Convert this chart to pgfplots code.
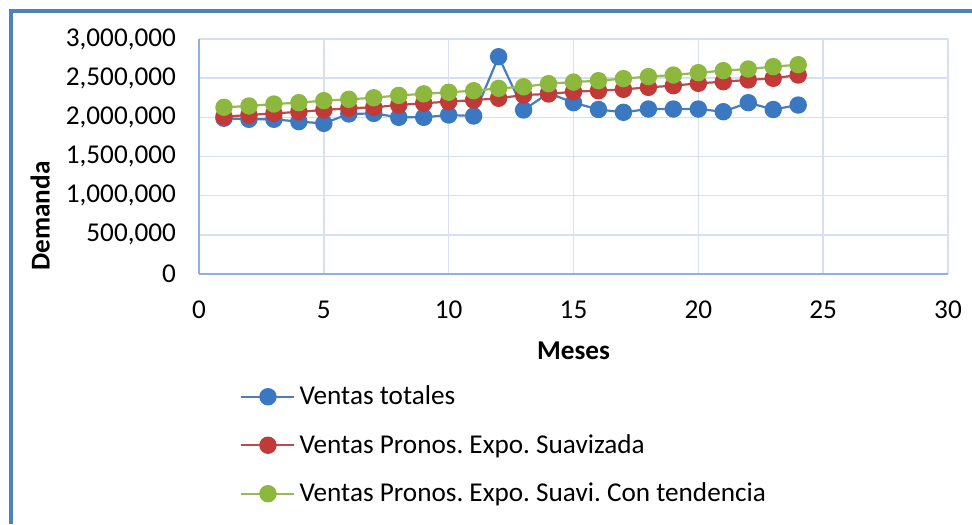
\documentclass[border=0pt]{standalone}
\usepackage{fontspec}
\setmainfont{Carlito}
\usepackage{pgfplots}
\usepackage{pgfplotstable}
\pgfplotsset{compat=1.18}
\frenchspacing
\definecolor{gridc}{HTML}{D5E1F2}
\definecolor{axc}{HTML}{8FB1DE}
\definecolor{framec}{HTML}{4F81BD}
\definecolor{lblue}{HTML}{4A7EBB}
\definecolor{lred}{HTML}{BE4B48}
\definecolor{lgreen}{HTML}{98B954}
\definecolor{mblue}{HTML}{3B78C2}
\definecolor{mred}{HTML}{C23A38}
\definecolor{mgreen}{HTML}{8DB83E}
\pgfplotstableread{
x y
1 1988000
2 1975000
3 1975000
4 1945000
5 1923000
6 2043000
7 2050000
8 2000000
9 2000000
10 2030000
11 2017000
12 2774000
13 2094000
14 2310000
15 2187000
16 2100000
17 2064000
18 2106000
19 2106000
20 2106000
21 2072000
22 2187000
23 2100000
24 2157000
}\totales
\pgfplotstableread{
x y
1 2008000
2 2030000
3 2050000
4 2070000
5 2094000
6 2115000
7 2128000
8 2157000
9 2180000
10 2200000
11 2220000
12 2243000
13 2285000
14 2298000
15 2327000
16 2340000
17 2357000
18 2383000
19 2404000
20 2434000
21 2455000
22 2477000
23 2498000
24 2540000
}\suavizada
\pgfplotstableread{
x y
1 2128000
2 2145000
3 2170000
4 2187000
5 2213000
6 2230000
7 2250000
8 2280000
9 2300000
10 2320000
11 2340000
12 2370000
13 2390000
14 2430000
15 2450000
16 2468000
17 2494000
18 2520000
19 2540000
20 2570000
21 2596000
22 2617000
23 2647000
24 2672000
}\tendencia
\begin{document}
\begin{tikzpicture}[font=\fontsize{13.6}{16.3}\selectfont]
\useasboundingbox (0,0) rectangle (486pt,262pt);
\draw[framec, line width=2pt] (5.5pt,0pt) -- (5.5pt,256.5pt) -- (486pt,256.5pt);
\begin{axis}[
  at={(99.5pt,125pt)}, anchor=south west,
  scale only axis, width=374.5pt, height=117.5pt,
  xmin=0, xmax=30, ymin=0, ymax=3000000,
  xtick={0,5,...,30}, ytick={0,500000,...,3000000},
  grid=major, grid style={gridc, line width=0.7pt},
  axis lines=left, axis line style={axc, line width=0.9pt, -},
  major tick length=0pt,
  scaled y ticks=false,
  /pgf/number format/.cd, fixed, 1000 sep={,}, assume math mode=true,
  /pgfplots/.cd,
  xticklabel style={yshift=-10pt},
  yticklabel style={xshift=-8pt},
  xlabel={\bfseries Meses},
  xlabel style={at={(axis description cs:0.5,-0.328)}, anchor=center},
  ylabel={\bfseries Demanda},
  ylabel style={at={(axis description cs:-0.212,0.247)}, anchor=center},
  legend style={at={(axis description cs:0.0547,-0.457)}, anchor=north west,
    draw=none, fill=none, inner sep=0pt, row sep=9.3pt, font=\fontsize{13.6}{16.3}\selectfont},
  legend cell align=left,
  legend image code/.code={\draw[mark repeat=2,mark phase=2] plot coordinates {(0pt,0pt)(13.25pt,0pt)(26.5pt,0pt)};},
  every axis plot/.append style={line width=1.1pt, mark=*, mark size=3.8pt},
]
\addplot[lblue, mark options={fill=mblue, draw=mblue}] table {\totales};
\addlegendentry{Ventas totales}
\addplot[lred, mark options={fill=mred, draw=mred}] table {\suavizada};
\addlegendentry{Ventas Pronos. Expo. Suavizada}
\addplot[lgreen, mark options={fill=mgreen, draw=mgreen}] table {\tendencia};
\addlegendentry{Ventas Pronos. Expo. Suavi. Con tendencia}
\end{axis}
\end{tikzpicture}
\end{document}
